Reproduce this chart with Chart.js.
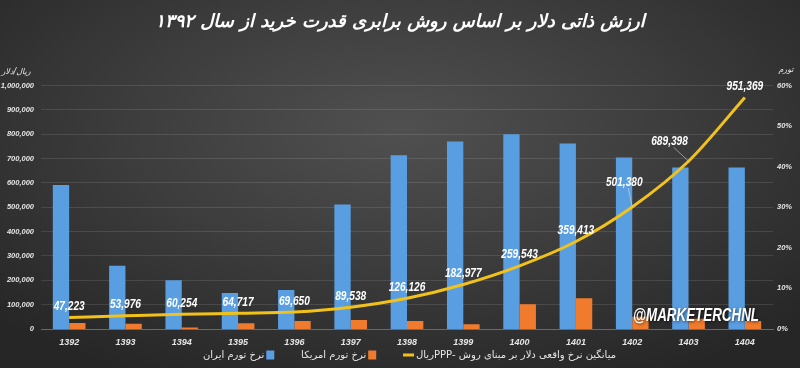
<!DOCTYPE html>
<html lang="fa">
<head>
<meta charset="utf-8">
<title>ارزش ذاتی دلار</title>
<script src="https://cdn.jsdelivr.net/npm/chart.js@4.4.1/dist/chart.umd.min.js"></script>
<style>
    html, body {
        margin: 0;
        padding: 0;
        width: 800px;
        height: 368px;
        overflow: hidden;
    }
    body {
        background: radial-gradient(ellipse 70% 75% at 50% 35%, #505050 0%, #3c3c3c 50%, #262626 100%);
    }
    #wrap {
        position: relative;
        width: 800px;
        height: 368px;
    }
</style>
</head>
<body>
<div id="wrap"><canvas id="ppp-chart"></canvas></div>
<script>
// Data
const years = ['1392', '1393', '1394', '1395', '1396', '1397', '1398', '1399', '1400', '1401', '1402', '1403', '1404'];
const iranInflation = [35.5, 15.6, 12.0, 8.9, 9.6, 30.7, 42.8, 46.2, 48.0, 45.7, 42.3, 39.8, 39.8];
const usInflation = [1.5, 1.3, 0.4, 1.4, 2.0, 2.2, 2.0, 1.2, 6.1, 7.6, 3.0, 2.5, 2.0];
const pppRial = [47223, 53976, 60254, 64717, 69650, 89538, 126126, 182977, 259543, 359413, 501380, 689398, 951369];

const rialTicks = { min: 0, max: 1000000, step: 100000 };
const percentTicks = { min: 0, max: 60, step: 10 };

const colors = {
    iran: '#5a9ee2',
    us: '#f07b2c',
    line: '#f2c21a',
    text: '#e6e6e6',
    grid: 'rgba(255,255,255,0.11)',
    axis: '#6a6a6a'
};

const tickFont = { family: 'Liberation Sans', size: 7.5, style: 'italic', weight: 'bold' };

function drawSqueezed(ctx, text, x, y, sx) {
    ctx.save();
    ctx.translate(x, y);
    ctx.scale(sx, 1);
    ctx.fillText(text, 0, 0);
    ctx.restore();
}

// Draws the point labels, axis units, watermark and the legend row
const overlayPlugin = {
    id: 'overlay',
    afterDraw(chart) {
        const ctx = chart.ctx;
        const meta = chart.getDatasetMeta(2);
        // labels that sit away from their point, with a leader line
        const shifted = { 10: [-8, -25], 11: [-19, -20] };

        ctx.save();
        ctx.direction = 'ltr';
        ctx.fillStyle = '#ffffff';
        ctx.textAlign = 'center';
        ctx.textBaseline = 'middle';
        ctx.font = 'italic bold 13px "Liberation Sans"';
        meta.data.forEach(function(pt, i) {
            const off = shifted[i] || [0, -11];
            const x = pt.x + off[0];
            const y = pt.y + off[1];
            if (shifted[i]) {
                ctx.strokeStyle = 'rgba(220,220,220,0.7)';
                ctx.lineWidth = 0.8;
                ctx.beginPath();
                ctx.moveTo(x + 4, y + 6);
                ctx.lineTo(pt.x, pt.y);
                ctx.stroke();
            }
            drawSqueezed(ctx, pppRial[i].toLocaleString('en-US'), x, y, 0.78);
        });

        // axis units
        ctx.fillStyle = colors.text;
        ctx.font = 'italic 8px "DejaVu Sans"';
        ctx.direction = 'rtl';
        ctx.fillText('ریال/دلار', 16, 72);
        ctx.fillText('تورم', 786, 70);

        // legend: bars have the box right of the text, the line has it on the left
        ctx.font = '10px "DejaVu Sans"';
        ctx.textAlign = 'left';
        ctx.direction = 'rtl';
        const ds = chart.data.datasets;
        const left = 203, right = 615;
        const items = ds.map(function(d) {
            return { d: d, tw: ctx.measureText(d.label).width };
        });
        const used = items.reduce(function(s, it) { return s + it.tw + 12; }, 0);
        const gap = (right - left - used) / (items.length - 1);
        let cx = left;
        const ly = 355;
        items.forEach(function(it) {
            const d = it.d;
            if (d.type === 'line') {
                ctx.fillStyle = d.borderColor;
                ctx.fillRect(cx, ly - 1.5, 11, 3);
                ctx.fillStyle = colors.text;
                ctx.fillText(d.label, cx + 13, ly);
            } else {
                ctx.fillStyle = colors.text;
                ctx.fillText(d.label, cx, ly);
                ctx.fillStyle = d.backgroundColor;
                ctx.fillRect(cx + it.tw + 2, ly - 4.5, 8, 9);
            }
            cx += it.tw + 12 + gap;
        });

        // watermark
        ctx.direction = 'ltr';
        ctx.textAlign = 'center';
        ctx.fillStyle = '#ffffff';
        ctx.font = 'italic bold 18px "Liberation Sans"';
        ctx.shadowColor = 'rgba(0,0,0,0.6)';
        ctx.shadowBlur = 3;
        ctx.shadowOffsetX = 1;
        ctx.shadowOffsetY = 1;
        const w = ctx.measureText('@MARKETERCHNL').width;
        drawSqueezed(ctx, '@MARKETERCHNL', 696, 316, 126 / w);
        ctx.restore();
    }
};

new Chart(document.getElementById('ppp-chart'), {
    data: {
        labels: years,
        datasets: [{
            type: 'bar',
            label: 'نرخ تورم ایران',
            data: iranInflation,
            backgroundColor: colors.iran,
            yAxisID: 'y1',
            categoryPercentage: 0.58,
            barPercentage: 1,
            order: 1
        }, {
            type: 'bar',
            label: 'نرخ تورم امریکا',
            data: usInflation,
            backgroundColor: colors.us,
            yAxisID: 'y1',
            categoryPercentage: 0.58,
            barPercentage: 1,
            order: 1
        }, {
            type: 'line',
            label: 'میانگین نرخ واقعی دلار بر مبنای روش -PPPریال',
            data: pppRial,
            borderColor: colors.line,
            backgroundColor: colors.line,
            borderWidth: 3,
            tension: 0.4,
            cubicInterpolationMode: 'monotone',
            pointRadius: 0,
            yAxisID: 'y',
            order: 0
        }]
    },
    options: {
        responsive: true,
        maintainAspectRatio: false,
        animation: false,
        layout: {
            padding: { top: 4, left: 0, right: 0, bottom: 19 }
        },
        plugins: {
            title: {
                display: true,
                text: 'ارزش ذاتی دلار بر اساس روش برابری قدرت خرید از سال ۱۳۹۲',
                color: '#ffffff',
                font: { family: 'DejaVu Sans', size: 18, weight: 'bold', style: 'italic' },
                padding: { top: 8, bottom: 52 }
            },
            legend: { display: false },
            tooltip: { enabled: false }
        },
        scales: {
            x: {
                grid: { display: false, drawTicks: false },
                border: { color: colors.axis, width: 1 },
                ticks: {
                    color: colors.text,
                    font: { family: 'Liberation Sans', size: 9, style: 'italic', weight: 'bold' },
                    padding: 8
                },
                afterFit: function(scale) {
                    scale.width = scale.width;
                    scale.height = 20;
                }
            },
            y: {
                position: 'left',
                min: rialTicks.min,
                max: rialTicks.max,
                grid: { color: colors.grid, drawTicks: false },
                border: { display: false },
                ticks: {
                    stepSize: rialTicks.step,
                    color: colors.text,
                    font: tickFont,
                    padding: 7,
                    callback: function(value) {
                        return value.toLocaleString('en-US');
                    }
                },
                afterFit: function(scale) {
                    scale.width = 41;
                }
            },
            y1: {
                position: 'right',
                min: percentTicks.min,
                max: percentTicks.max,
                grid: { display: false, drawTicks: false },
                border: { display: false },
                ticks: {
                    stepSize: percentTicks.step,
                    color: colors.text,
                    font: tickFont,
                    padding: 4,
                    callback: function(value) {
                        return value + '%';
                    }
                },
                afterFit: function(scale) {
                    scale.width = 27;
                }
            }
        }
    },
    plugins: [overlayPlugin]
});
</script>
</body>
</html>
